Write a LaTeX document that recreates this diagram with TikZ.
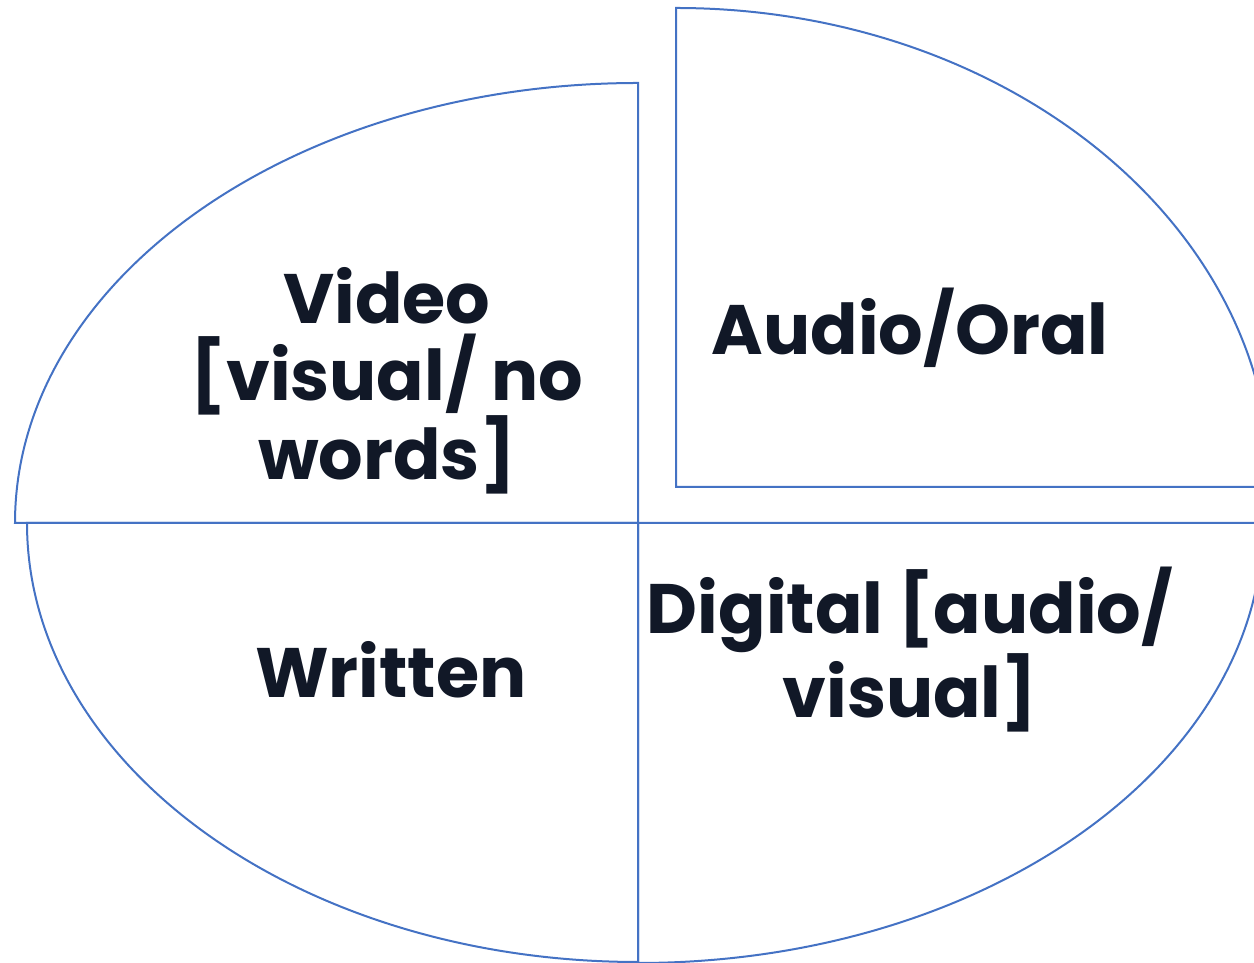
\documentclass[tikz,border=0pt]{standalone}
\usepackage{fontspec}
\setmainfont{Poppins}
\definecolor{edge}{HTML}{4472C4}
\definecolor{ink}{HTML}{111827}
\begin{document}
\begin{tikzpicture}[x=1pt,y=1pt,
  quad/.style={draw=edge,line width=2pt,line join=miter},
  lbl/.style={text=ink,font=\fontsize{70}{77}\selectfont\bfseries,align=center,anchor=base,inner sep=0pt}]
\useasboundingbox (0,0) rectangle (1254,963);
% top-left quarter
\draw[quad] (638,440) -- (15,440) arc[start angle=180,end angle=90,x radius=623,y radius=440] -- cycle;
% top-right quarter
\draw[quad] (676,476) -- (676,955) arc[start angle=90,end angle=0,x radius=595,y radius=479] -- cycle;
% bottom-left quarter
\draw[quad] (638,440) -- (27,440) arc[start angle=180,end angle=270,x radius=611,y radius=439] -- cycle;
% bottom-right quarter
\draw[quad] (638,440) -- (638,0) arc[start angle=270,end angle=360,x radius=625,y radius=440] -- cycle;
\node[lbl] (video) at (387,483) {Video\\{[}visual/ no\\words{]}};
\node[lbl] (audio) at (910,608) {Audio/Oral};
\node[lbl] (written) at (391,265) {Written};
\node[lbl] (digital) at (910,245) {Digital {[}audio/\\visual{]}};
\end{tikzpicture}
\end{document}
